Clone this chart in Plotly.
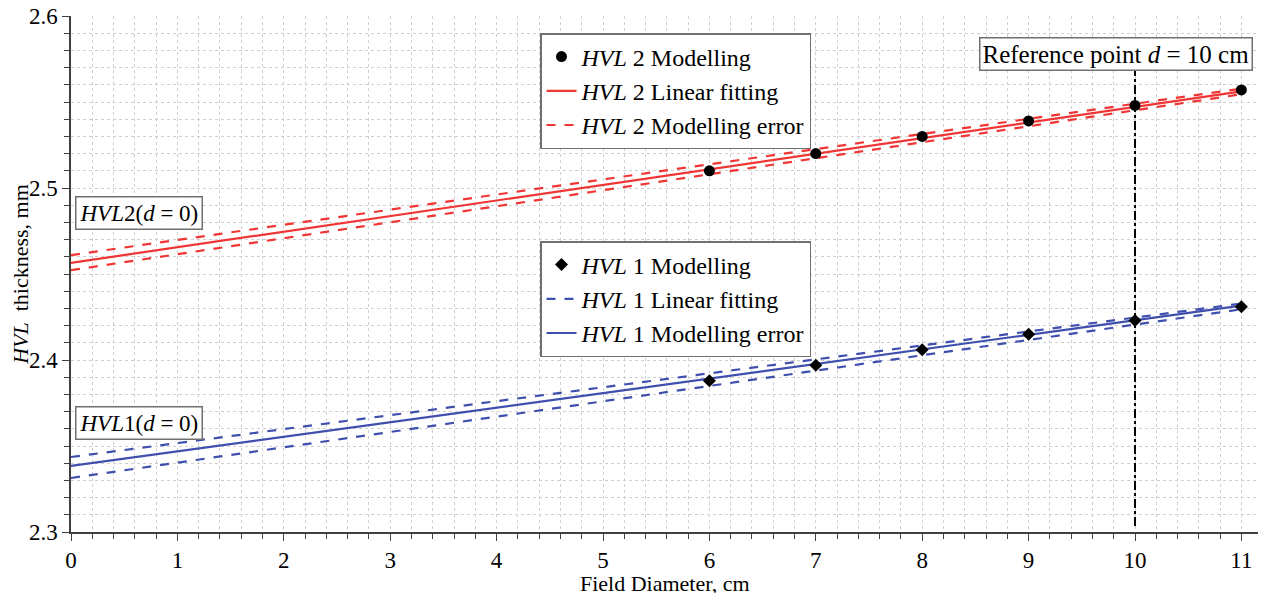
import plotly.graph_objects as go

# ---- data ----
diam = [6, 7, 8, 9, 10, 11]
hvl2_model = [2.510, 2.520, 2.530, 2.539, 2.548, 2.557]
hvl1_model = [2.388, 2.397, 2.406, 2.415, 2.423, 2.431]

fit_x = [0, 11]
hvl2_fit = [2.4565, 2.5562]
hvl2_err_hi = [2.4610, 2.5578]
hvl2_err_lo = [2.4522, 2.5545]

hvl1_fit = [2.3384, 2.4316]
hvl1_err_hi = [2.3436, 2.4328]
hvl1_err_lo = [2.3314, 2.4295]

ref_x = [10, 10]
ref_y = [2.3035, 2.5735]

RED = "#f03535"
BLUE = "#3f4fad"
FONT = "Liberation Serif"

fig = go.Figure()

# HVL2 group (legend 1)
fig.add_trace(go.Scatter(x=fit_x, y=hvl2_err_hi, mode="lines", line=dict(color=RED, width=2.2, dash="dash"),
                         name="<i>HVL</i> 2 Modelling error", legend="legend", legendrank=3))
fig.add_trace(go.Scatter(x=fit_x, y=hvl2_err_lo, mode="lines", line=dict(color=RED, width=2.2, dash="dash"),
                         showlegend=False))
fig.add_trace(go.Scatter(x=fit_x, y=hvl2_fit, mode="lines", line=dict(color=RED, width=2.2),
                         name="<i>HVL</i> 2 Linear fitting", legend="legend", legendrank=2))
fig.add_trace(go.Scatter(x=diam, y=hvl2_model, mode="markers", marker=dict(color="black", size=11, symbol="circle"),
                         name="<i>HVL</i> 2 Modelling", legend="legend", legendrank=1))

# HVL1 group (legend 2)
fig.add_trace(go.Scatter(x=fit_x, y=hvl1_err_hi, mode="lines", line=dict(color=BLUE, width=2.2, dash="dash"),
                         name="<i>HVL</i> 1 Linear fitting", legend="legend2", legendrank=2))
fig.add_trace(go.Scatter(x=fit_x, y=hvl1_err_lo, mode="lines", line=dict(color=BLUE, width=2.2, dash="dash"),
                         showlegend=False))
fig.add_trace(go.Scatter(x=fit_x, y=hvl1_fit, mode="lines", line=dict(color=BLUE, width=2.2),
                         name="<i>HVL</i> 1 Modelling error", legend="legend2", legendrank=3))
fig.add_trace(go.Scatter(x=diam, y=hvl1_model, mode="markers", marker=dict(color="black", size=10, symbol="diamond"),
                         name="<i>HVL</i> 1 Modelling", legend="legend2", legendrank=1))

# reference line
fig.add_trace(go.Scatter(x=ref_x, y=ref_y, mode="lines", line=dict(color="black", width=2, dash="dashdot"),
                         showlegend=False))

# page has an 8px body margin; plot area spans page x 71..1258, y 16..532
PW, PH = 1187, 516
legend_style = dict(font=dict(family=FONT, size=24, color="black"), bgcolor="white",
                    bordercolor="#707070", borderwidth=1.5, xanchor="left", yanchor="top",
                    traceorder="normal", itemwidth=30, tracegroupgap=0)
fig.update_layout(
    legend=dict(x=(540 - 71) / PW, y=(532 - 33) / PH, **legend_style),
    legend2=dict(x=(540 - 71) / PW, y=(532 - 241) / PH, **legend_style),
)

ann_style = dict(showarrow=False, yanchor="middle", font=dict(family=FONT, size=23, color="black"),
                 bgcolor="white", bordercolor="#707070", borderwidth=1.5)
fig.add_annotation(x=0.04, y=2.4852, xref="x", yref="y", text="<i>HVL</i>2(<i>d</i> = 0)",
                   xanchor="left", borderpad=3, **ann_style)
fig.add_annotation(x=0.04, y=2.3631, xref="x", yref="y", text="<i>HVL</i>1(<i>d</i> = 0)",
                   xanchor="left", borderpad=3, **ann_style)
ref_style = dict(ann_style)
ref_style["font"] = dict(family=FONT, size=25, color="black")
fig.add_annotation(x=9.82, y=2.578, xref="x", yref="y", text="Reference point <i>d</i> = 10 cm",
                   xanchor="center", borderpad=2, **ref_style)

# x-axis title
fig.add_annotation(x=0.5, y=-(575 - 524) / PH, xref="paper", yref="paper", text="Field Diameter, cm",
                   showarrow=False, xanchor="center", yanchor="middle",
                   font=dict(family=FONT, size=22, color="black"))

grid = dict(gridcolor="#cfcfcf", griddash="dot", gridwidth=1)
fig.update_xaxes(range=[0, PW / 106.4], tick0=0, dtick=1, showline=True, linecolor="#404040", linewidth=1.5,
                 ticks="outside", ticklen=7, tickcolor="#404040", zeroline=False, automargin=False,
                 tickfont=dict(family=FONT, size=23, color="black"), ticklabeloverflow="allow",
                 minor=dict(dtick=0.2, ticks="outside", ticklen=5, tickcolor="#404040", showgrid=True, **grid),
                 **grid)
fig.update_yaxes(range=[2.3, 2.60001], tick0=2.3, dtick=0.1, tickformat=".1f", showline=True, linecolor="#404040",
                 linewidth=1.5, ticks="outside", ticklen=7, tickcolor="#404040", zeroline=False, automargin=False,
                 tickfont=dict(family=FONT, size=23, color="black"), ticklabeloverflow="allow",
                 minor=dict(dtick=0.01, ticks="outside", ticklen=5, tickcolor="#404040", showgrid=True, **grid),
                 title=dict(text="<i>HVL</i>  thickness, mm",
                            font=dict(family=FONT, size=22, color="black"), standoff=8),
                 **grid)

fig.update_layout(width=1250, height=585, margin=dict(l=63, r=0, t=8, b=61),
                  plot_bgcolor="white", paper_bgcolor="white", showlegend=True)

fig.write_html("out.html")
